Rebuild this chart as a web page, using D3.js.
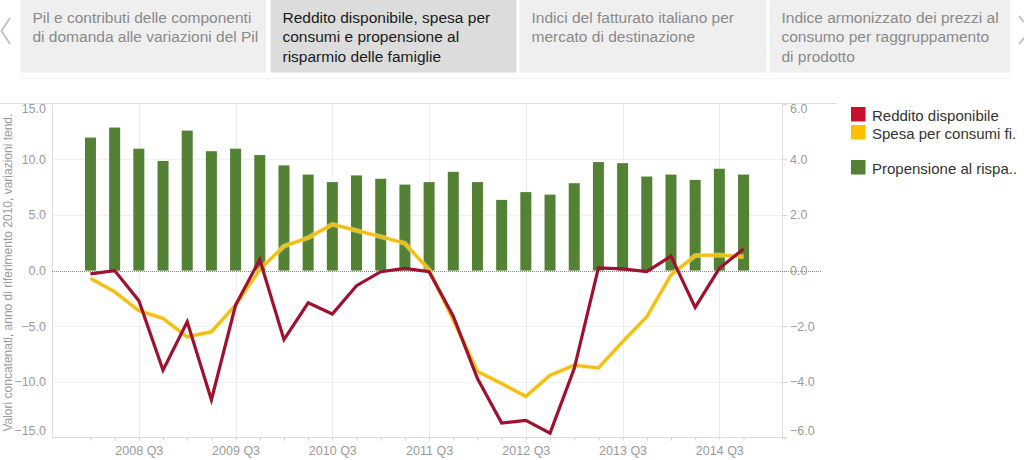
<!DOCTYPE html>
<html>
<head>
<meta charset="utf-8">
<script src="https://cdn.jsdelivr.net/npm/d3@7"></script>
<style>
  html, body { margin: 0; padding: 0; background: #fff; }
  svg { display: block; font-family: "Liberation Sans", Arial, sans-serif; }
</style>
</head>
<body>
<svg id="chart" width="1024" height="460"></svg>
<script>
// ---------- DATA ----------
const categories = [
  "2008 Q1","2008 Q2","2008 Q3","2008 Q4",
  "2009 Q1","2009 Q2","2009 Q3","2009 Q4",
  "2010 Q1","2010 Q2","2010 Q3","2010 Q4",
  "2011 Q1","2011 Q2","2011 Q3","2011 Q4",
  "2012 Q1","2012 Q2","2012 Q3","2012 Q4",
  "2013 Q1","2013 Q2","2013 Q3","2013 Q4",
  "2014 Q1","2014 Q2","2014 Q3","2014 Q4"
];
// Reddito disponibile (left axis)
const reddito = [
  -0.3, 0.0, -2.7, -8.95, -4.6, -11.6, -3.1, 1.0,
  -6.2, -2.9, -3.9, -1.35, -0.1, 0.2, -0.1, -4.1,
  -9.7, -13.7, -13.45, -14.6, -8.8, 0.25, 0.15, -0.1,
  1.3, -3.3, 0.2, 1.95
];
// Spesa per consumi finali (left axis)
const spesa = [
  -0.7, -1.9, -3.6, -4.3, -5.95, -5.5, -3.1, 0.1,
  2.2, 2.95, 4.15, 3.6, 3.05, 2.45, 0.05, -4.45,
  -9.05, -10.15, -11.3, -9.4, -8.5, -8.75, -6.4, -4.15,
  -0.4, 1.35, 1.4, 1.25
];
// Propensione al risparmio (right axis)
const propensione = [
  4.78, 5.14, 4.38, 3.94, 5.03, 4.29, 4.38, 4.15,
  3.78, 3.45, 3.18, 3.42, 3.30, 3.09, 3.18, 3.55,
  3.18, 2.54, 2.82, 2.73, 3.14, 3.90, 3.86, 3.38,
  3.45, 3.26, 3.66, 3.45
];
const leftTicks = [15, 10, 5, 0, -5, -10, -15];
const rightTicks = [6, 4, 2, 0, -2, -4, -6];
const xTickLabels = ["2008 Q3","2009 Q3","2010 Q3","2011 Q3","2012 Q3","2013 Q3","2014 Q3"];
const seriesNames = ["Reddito disponibile", "Spesa per consumi fi.", "Propensione al rispa.."];
const legendColors = ["#c8102e", "#ffc000", "#548235"];
const tabTexts = [
  ["Pil e contributi delle componenti", "di domanda alle variazioni del Pil"],
  ["Reddito disponibile, spesa per", "consumi e propensione al", "risparmio delle famiglie"],
  ["Indici del fatturato italiano per", "mercato di destinazione"],
  ["Indice armonizzato dei prezzi al", "consumo per raggruppamento", "di prodotto"]
];
const yTitle = "Valori concatenati, anno di riferimento 2010, variazioni tend.";

// ---------- LAYOUT ----------
const svg = d3.select("#chart");
const plot = { left: 52, right: 782, top: 103.6, bottom: 437.6 };

// ---------- TABS ----------
const tabs = [
  { x: 20.5, w: 245.5, active: false },
  { x: 270.5, w: 246, active: true },
  { x: 519.5, w: 247, active: false },
  { x: 769.5, w: 240.5, active: false }
];
const tabG = svg.append("g");
tabs.forEach((t, i) => {
  tabG.append("rect").attr("x", t.x).attr("y", 0).attr("width", t.w).attr("height", 72.5)
    .attr("fill", t.active ? "#dcdcdc" : "#efefef");
  const txt = tabG.append("text").attr("x", t.x + 12).attr("y", 22.5)
    .attr("font-size", 15.5).attr("fill", t.active ? "#1a1a1a" : "#8a8a8a");
  tabTexts[i].forEach((line, j) => {
    txt.append("tspan").attr("x", t.x + 12).attr("y", 22.5 + j * 19.5).text(line);
  });
});
// arrows
svg.append("polyline").attr("points", "10,18 1.5,31 10,44")
  .attr("fill", "none").attr("stroke", "#c4c4c4").attr("stroke-width", 2);
svg.append("polyline").attr("points", "1019,16 1024,22")
  .attr("fill", "none").attr("stroke", "#c4c4c4").attr("stroke-width", 2);
svg.append("polyline").attr("points", "1024,38 1019,44")
  .attr("fill", "none").attr("stroke", "#c4c4c4").attr("stroke-width", 2);
svg.append("line").attr("x1", 20).attr("x2", 1010).attr("y1", 78.5).attr("y2", 78.5)
  .attr("stroke", "#f2f2f2").attr("stroke-width", 1);

// ---------- SCALES ----------
const x = d3.scalePoint().domain(categories).range([plot.left, plot.right]).padding(1.59);
const yL = d3.scaleLinear().domain([-15, 15]).range([plot.bottom, plot.top]);
const yR = d3.scaleLinear().domain([-6, 6]).range([plot.bottom, plot.top]);

// frame top line
svg.append("line").attr("x1", 0).attr("x2", 837).attr("y1", 103.5).attr("y2", 103.5)
  .attr("stroke", "#e0e0e0");

// gridlines
const grid = svg.append("g");
grid.selectAll("line.h").data(leftTicks.filter(d => d !== 0 && Math.abs(d) !== 15)).enter()
  .append("line").attr("x1", plot.left).attr("x2", plot.right)
  .attr("y1", d => Math.round(yL(d)) + 0.5).attr("y2", d => Math.round(yL(d)) + 0.5)
  .attr("stroke", "#f0f0f0");
grid.selectAll("line.v").data(xTickLabels).enter()
  .append("line").attr("x1", d => Math.round(x(d)) + 0.5).attr("x2", d => Math.round(x(d)) + 0.5)
  .attr("y1", plot.top).attr("y2", plot.bottom)
  .attr("stroke", "#ececec");

// ---------- AXES ----------
const leftAxis = svg.append("g").attr("transform", `translate(${plot.left},0)`)
  .call(d3.axisLeft(yL).tickValues(leftTicks).tickFormat(d3.format(".1f")).tickSize(0).tickPadding(6));
const rightAxis = svg.append("g").attr("transform", `translate(${plot.right},0)`)
  .call(d3.axisRight(yR).tickValues(rightTicks).tickFormat(d3.format(".1f")).tickSize(5).tickPadding(3));
const bottomAxis = svg.append("g").attr("transform", `translate(0,${Math.round(plot.bottom) - 0.5})`)
  .call(d3.axisBottom(x).tickValues(categories).tickSize(3).tickPadding(6)
    .tickFormat(d => xTickLabels.includes(d) ? d : ""));
[leftAxis, rightAxis, bottomAxis].forEach(a => {
  a.select(".domain").attr("stroke", "#dcdcdc");
  a.selectAll(".tick line").attr("stroke", "#d0d0d0");
  a.selectAll(".tick text").attr("fill", "#9a9a9a").attr("font-size", 12.5)
    .attr("font-family", "'Liberation Sans', Arial, sans-serif");
});
bottomAxis.select(".domain").attr("d", `M${plot.left},0H${plot.right}`);
// extreme tick labels pulled inward, as in the reference
[leftAxis, rightAxis].forEach(a => {
  a.selectAll(".tick text").attr("dy", (d, i, n) => i === 0 ? "0.32em" : "0.32em")
    .attr("transform", d => Math.abs(d) === 15 || Math.abs(d) === 6 ? `translate(0,${d > 0 ? 5 : -7})` : null);
});

// y title
svg.append("text")
  .attr("transform", `translate(12,${(plot.top + plot.bottom) / 2 + 2}) rotate(-90)`)
  .attr("text-anchor", "middle").attr("font-size", 12).attr("fill", "#9a9a9a")
  .text(yTitle);

// ---------- BARS ----------
const barW = 11;
svg.append("g").selectAll("rect").data(propensione).enter().append("rect")
  .attr("x", (d, i) => x(categories[i]) - barW / 2)
  .attr("width", barW)
  .attr("y", d => yR(Math.max(0, d)))
  .attr("height", d => Math.abs(yR(d) - yR(0)))
  .attr("fill", "#548235");

// zero line
svg.append("line").attr("x1", plot.left).attr("x2", plot.right + 40)
  .attr("y1", Math.round(yL(0)) + 0.5).attr("y2", Math.round(yL(0)) + 0.5)
  .attr("stroke", "#8a8a8a").attr("stroke-dasharray", "1,1");

// ---------- LINES ----------
const lineGen = d3.line().x((d, i) => x(categories[i])).y(d => yL(d));
svg.append("path").datum(spesa).attr("d", lineGen)
  .attr("fill", "none").attr("stroke", "#fbe38a").attr("stroke-width", 5).attr("stroke-opacity", 0.6)
  .attr("stroke-linejoin", "round");
svg.append("path").datum(spesa).attr("d", lineGen)
  .attr("fill", "none").attr("stroke", "#efbf14").attr("stroke-width", 3)
  .attr("stroke-linejoin", "miter");
svg.append("path").datum(reddito).attr("d", lineGen)
  .attr("fill", "none").attr("stroke", "#a0102f").attr("stroke-width", 3.2)
  .attr("stroke-linejoin", "miter");

// ---------- LEGEND ----------
const legendY = [107, 125, 160];
const leg = svg.append("g");
seriesNames.forEach((name, i) => {
  leg.append("rect").attr("x", 851).attr("y", legendY[i]).attr("width", 14.5).attr("height", 14.5)
    .attr("fill", legendColors[i]);
  leg.append("text").attr("x", 872).attr("y", legendY[i] + 13.5)
    .attr("font-size", 15).attr("fill", "#333").text(name);
});
</script>
</body>
</html>
